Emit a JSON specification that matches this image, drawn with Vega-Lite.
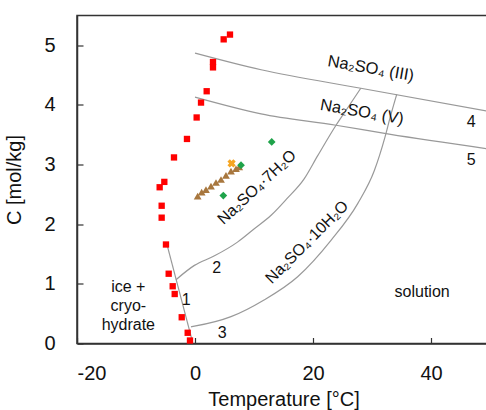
{
  "$schema": "https://vega.github.io/schema/vega-lite/v6.json",
  "autosize": "none",
  "padding": {"left": 77, "top": 15.5, "right": 0, "bottom": 66.5},
  "width": 413,
  "height": 328,
  "background": "white",
  "config": {
    "font": "Liberation Sans",
    "view": {"stroke": "#333", "strokeWidth": 1.5},
    "axis": {
      "grid": false,
      "domainColor": "#333",
      "domainWidth": 1.5,
      "tickColor": "#333",
      "tickWidth": 1.2,
      "tickSize": -6,
      "labelFontSize": 20,
      "labelColor": "#111",
      "titleFontSize": 20,
      "titleFontWeight": "normal",
      "titleColor": "#111"
    }
  },
  "datasets": {
    "red": [
      {"t": 5.93, "c": 5.18}, {"t": 4.86, "c": 5.10}, {"t": 3.05, "c": 4.72}, {"t": 3.05, "c": 4.63},
      {"t": 1.98, "c": 4.23}, {"t": 1.02, "c": 4.04}, {"t": 0.28, "c": 3.79}, {"t": -1.36, "c": 3.43},
      {"t": -3.56, "c": 3.12}, {"t": -5.2, "c": 2.71}, {"t": -5.99, "c": 2.62}, {"t": -5.65, "c": 2.31},
      {"t": -5.65, "c": 2.11}, {"t": -4.92, "c": 1.66}, {"t": -4.46, "c": 1.17}, {"t": -3.78, "c": 0.96},
      {"t": -3.44, "c": 0.83}, {"t": -2.25, "c": 0.44}, {"t": -1.24, "c": 0.18}, {"t": -0.85, "c": 0.05}
    ],
    "brown": [
      {"t": 0.45, "c": 2.47}, {"t": 1.13, "c": 2.54}, {"t": 1.86, "c": 2.58}, {"t": 2.71, "c": 2.64},
      {"t": 3.56, "c": 2.70}, {"t": 4.41, "c": 2.75}, {"t": 5.25, "c": 2.82}, {"t": 6.10, "c": 2.89},
      {"t": 6.95, "c": 2.93}, {"t": 7.5, "c": 2.96}
    ],
    "green": [
      {"t": 7.8, "c": 2.99}, {"t": 4.8, "c": 2.48}, {"t": 13.0, "c": 3.38}
    ],
    "orange": [{"t": 6.2, "c": 3.02}],
    "curves": [
      {"curve": "ice", "t": -4.8, "c": 1.68}, {"curve": "ice", "t": -0.4, "c": 0.02},
      {"curve": "hepta", "t": -3.22, "c": 1.07}, {"curve": "hepta", "t": -0.1, "c": 1.31},
      {"curve": "hepta", "t": 3.3, "c": 1.47}, {"curve": "hepta", "t": 7.2, "c": 1.70},
      {"curve": "hepta", "t": 10, "c": 1.92}, {"curve": "hepta", "t": 12.9, "c": 2.15},
      {"curve": "hepta", "t": 15.5, "c": 2.42}, {"curve": "hepta", "t": 18.5, "c": 2.76},
      {"curve": "hepta", "t": 20.8, "c": 3.15}, {"curve": "hepta", "t": 23.9, "c": 3.66},
      {"curve": "hepta", "t": 26, "c": 3.97}, {"curve": "hepta", "t": 28.1, "c": 4.28},
      {"curve": "deca", "t": -0.68, "c": 0.28}, {"curve": "deca", "t": -0.1, "c": 0.29},
      {"curve": "deca", "t": 6.1, "c": 0.45}, {"curve": "deca", "t": 11.7, "c": 0.73},
      {"curve": "deca", "t": 17.4, "c": 1.12}, {"curve": "deca", "t": 23.05, "c": 1.73},
      {"curve": "deca", "t": 27.6, "c": 2.35}, {"curve": "deca", "t": 30.4, "c": 2.90},
      {"curve": "deca", "t": 32.2, "c": 3.46}, {"curve": "deca", "t": 33.1, "c": 3.80},
      {"curve": "deca", "t": 34.2, "c": 4.18},
      {"curve": "III", "t": 0, "c": 4.87}, {"curve": "III", "t": 11.2, "c": 4.59},
      {"curve": "III", "t": 28.1, "c": 4.28}, {"curve": "III", "t": 50, "c": 3.89},
      {"curve": "V", "t": 0, "c": 4.13}, {"curve": "V", "t": 11.2, "c": 3.85},
      {"curve": "V", "t": 23.9, "c": 3.66}, {"curve": "V", "t": 32.9, "c": 3.51},
      {"curve": "V", "t": 50, "c": 3.26}
    ],
    "flat": [
      {"label": "1", "t": -1.5, "c": 0.73},
      {"label": "2", "t": 3.68, "c": 1.27},
      {"label": "3", "t": 4.6, "c": 0.18},
      {"label": "4", "t": 46.8, "c": 3.71},
      {"label": "5", "t": 46.8, "c": 3.07},
      {"label": "solution", "t": 38.5, "c": 0.86}
    ],
    "ice": [{"label": ["ice +", "cryo-", "hydrate"], "t": -11.3, "c": 0.95}],
    "phase": [
      {"label": "Na₂SO₄  (III)", "t": 29.8, "c": 4.61},
      {"label": "Na₂SO₄  (V)", "t": 28.3, "c": 3.88}
    ],
    "hepta": [{"label": "Na₂SO₄·7H₂O", "t": 10.5, "c": 2.62}],
    "deca": [{"label": "Na₂SO₄·10H₂O", "t": 19.0, "c": 1.70}]
  },
  "encoding": {
    "x": {
      "field": "t", "type": "quantitative",
      "scale": {"domain": [-20, 50], "nice": false, "zero": false},
      "axis": {"values": [-20, 0, 20, 40], "labelExpr": "'' + datum.value", "title": "Temperature [°C]", "labelPadding": 26, "titlePadding": 6}
    },
    "y": {
      "field": "c", "type": "quantitative",
      "scale": {"domain": [0, 5.5], "nice": false},
      "axis": {"values": [0, 1, 2, 3, 4, 5], "title": "C [mol/kg]", "labelPadding": 28, "titlePadding": 19}
    }
  },
  "layer": [
    {
      "data": {"name": "curves"},
      "mark": {"type": "line", "color": "#999999", "strokeWidth": 1.2, "interpolate": "monotone"},
      "encoding": {"detail": {"field": "curve"}}
    },
    {
      "data": {"values": [{"t": 0}]},
      "mark": {"type": "rule", "color": "#000", "strokeWidth": 1.6},
      "encoding": {"y": {"datum": 0}, "y2": {"datum": 5.5}}
    },
    {
      "data": {"name": "red"},
      "mark": {"type": "point", "shape": "square", "filled": true, "size": 40, "color": "#ff0000", "opacity": 1}
    },
    {
      "data": {"name": "brown"},
      "mark": {"type": "point", "shape": "triangle-up", "filled": true, "size": 60, "color": "#a8773e", "opacity": 1}
    },
    {
      "data": {"name": "green"},
      "mark": {"type": "point", "shape": "diamond", "filled": true, "size": 60, "color": "#1fa34a", "opacity": 1}
    },
    {
      "data": {"name": "orange"},
      "mark": {"type": "point", "shape": "cross", "angle": 45, "filled": true, "size": 70, "color": "#f5a623", "opacity": 1}
    },
    {
      "data": {"name": "flat"},
      "mark": {"type": "text", "fontSize": 16, "color": "#111", "align": "center", "baseline": "middle"},
      "encoding": {"text": {"field": "label"}}
    },
    {
      "data": {"name": "ice"},
      "mark": {"type": "text", "fontSize": 16, "color": "#111", "align": "center", "baseline": "middle", "lineHeight": 19},
      "encoding": {"text": {"field": "label"}}
    },
    {
      "data": {"name": "phase"},
      "mark": {"type": "text", "fontSize": 16.5, "color": "#111", "align": "center", "baseline": "middle", "angle": 10},
      "encoding": {"text": {"field": "label"}}
    },
    {
      "data": {"name": "hepta"},
      "mark": {"type": "text", "fontSize": 16, "color": "#111", "align": "center", "baseline": "middle", "angle": -43},
      "encoding": {"text": {"field": "label"}}
    },
    {
      "data": {"name": "deca"},
      "mark": {"type": "text", "fontSize": 16, "color": "#111", "align": "center", "baseline": "middle", "angle": -45},
      "encoding": {"text": {"field": "label"}}
    }
  ]
}
